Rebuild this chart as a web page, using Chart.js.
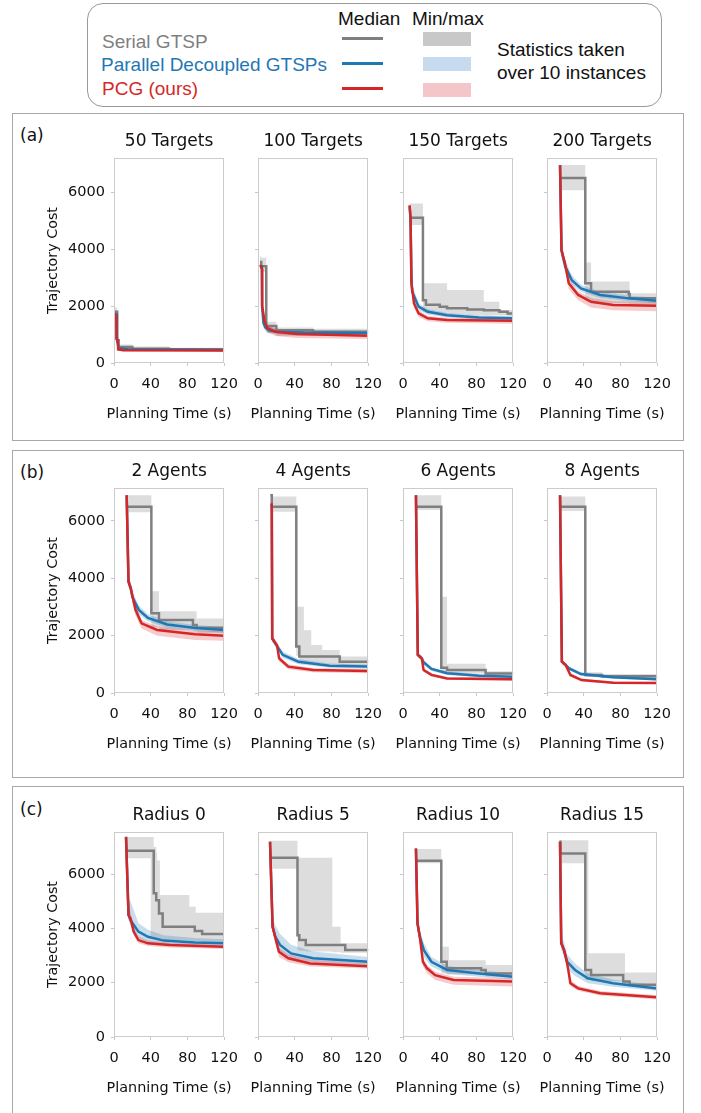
<!DOCTYPE html>
<html>
<head>
<meta charset="utf-8">
<script src="https://cdn.jsdelivr.net/npm/chart.js@4.4.1/dist/chart.umd.min.js"></script>
<style>
  body { margin:0; background:#fff; width:701px; height:1113px; position:relative; overflow:hidden; font-family:"DejaVu Sans", sans-serif; }
  .panel { position:absolute; border:1.5px solid #a8a8a8; box-sizing:border-box; }
  .plabel { position:absolute; font-size:17px; line-height:20px; color:#111; }
  .leg { position:absolute; font-family:"Liberation Sans", Arial, sans-serif; font-size:19px; line-height:22px; white-space:nowrap; color:#111; }
  .legline { position:absolute; height:3px; width:41px; }
  .legsw { position:absolute; height:14px; width:48px; }
  canvas { position:absolute; }
</style>
</head>
<body>

<div class="panel" style="left:87px;top:3px;width:575px;height:104px;border-radius:16px;border-color:#999;"></div>
<div class="leg" style="left:338px;top:8px;">Median</div>
<div class="leg" style="left:412px;top:8px;">Min/max</div>
<div class="leg" style="left:102px;top:31px;color:#7f7f7f;">Serial GTSP</div>
<div class="leg" style="left:101px;top:54px;color:#1f77b4;">Parallel Decoupled GTSPs</div>
<div class="leg" style="left:102px;top:78px;color:#d62728;">PCG (ours)</div>
<div class="legline" style="left:342px;top:37px;background:#7f7f7f;"></div>
<div class="legline" style="left:342px;top:62px;background:#1f77b4;"></div>
<div class="legline" style="left:342px;top:87px;background:#d62728;"></div>
<div class="legsw" style="left:423px;top:32px;background:#c8c8c8;"></div>
<div class="legsw" style="left:423px;top:57px;background:#c6dcee;"></div>
<div class="legsw" style="left:423px;top:83px;background:#f4c6ca;"></div>
<div class="leg" style="left:497px;top:39px;">Statistics taken</div>
<div class="leg" style="left:497px;top:62px;">over 10 instances</div>

<div class="panel" style="left:12px;top:113px;width:672px;height:328px;"></div>
<div class="panel" style="left:12px;top:450px;width:672px;height:328px;"></div>
<div class="panel" style="left:12px;top:786px;width:672px;height:400px;"></div>
<div class="plabel" style="left:20px;top:125px;">(a)</div>
<div class="plabel" style="left:20px;top:462px;">(b)</div>
<div class="plabel" style="left:20px;top:799px;">(c)</div>

<script>
// subplot titles
const titlesA = ['50 Targets', '100 Targets', '150 Targets', '200 Targets'];
const titlesB = ['2 Agents', '4 Agents', '6 Agents', '8 Agents'];
const titlesC = ['Radius 0', 'Radius 5', 'Radius 10', 'Radius 15'];

const xTicks = [0, 40, 80, 120];
const yTicks = [0, 2000, 4000, 6000];
const yMax = [7200, 7150, 7550];

// each row: [time (s), median, min, max]
// (a) number of targets
const a1Serial = [[0.5,1800,1650,1950],[3.5,800,600,1000],[5,560,480,650],[20,500,460,580],[60,480,450,540],[120,480,450,540]];
const a1Parallel = [[0.5,1700,1600,1800],[3,1700,1600,1800],[3.1,850,700,1000],[5,520,470,600],[15,480,440,530],[120,460,430,500]];
const a1Pcg = [[0.5,1750,1700,1800],[2.5,1650,1600,1700],[2.6,850,780,920],[4.3,800,740,860],[4.5,480,440,520],[10,450,410,490],[120,440,400,480]];

const a2Serial = [[2.2,3550,3300,3750],[3.5,3400,3200,3700],[9,1300,1050,1450],[20,1150,950,1250],[60,1100,950,1200],[120,1080,950,1200]];
const a2Parallel = [[2.2,3400,3300,3500],[4.2,3400,3300,3500],[4.4,2000,1800,2300],[6,1400,1250,1600],[8,1250,1120,1400],[12,1150,1050,1280],[20,1100,1000,1200],[50,1070,980,1160],[120,1050,970,1130]];
const a2Pcg = [[2.4,3440,3350,3500],[4.4,3300,3200,3400],[4.6,2000,1800,2200],[7,1480,1300,1650],[10.3,1220,1080,1350],[19,1100,950,1200],[42,1020,880,1120],[120,960,840,1060]];

const a3Serial = [[7,5100,4850,5600],[21.7,2200,1800,2800],[25,2050,1750,2800],[40,1980,1720,2800],[48,1920,1700,2560],[70,1880,1690,2560],[88,1850,1680,2150],[105,1800,1670,1860],[114,1740,1650,1860],[120,1740,1650,1860]];
const a3Parallel = [[7.2,5500,5400,5600],[8.2,5100,5000,5200],[9.2,2900,2600,3200],[10,2500,2300,2750],[17,1980,1850,2100],[27,1800,1700,1900],[48,1680,1600,1760],[83,1600,1530,1680],[120,1570,1500,1640]];
const a3Pcg = [[7.2,5540,5450,5600],[8.2,5100,5000,5200],[9.2,2800,2600,3000],[12,2090,1950,2250],[17,1740,1620,1850],[27,1570,1470,1650],[48,1510,1410,1590],[120,1485,1380,1560]];

const a4Serial = [[14,6500,6070,6950],[41.7,2800,2200,3530],[48,2500,2100,2860],[89,2420,2080,2860],[90,2270,2050,2450],[120,2270,2050,2450]];
const a4Parallel = [[14.2,6950,6900,7000],[15.8,3950,3700,4200],[20,3380,3150,3600],[27,2910,2750,3080],[37,2620,2500,2750],[58,2390,2280,2500],[89,2270,2170,2370],[120,2190,2100,2290]];
const a4Pcg = [[14.2,6950,6900,7000],[15.8,3965,3800,4100],[19.6,3500,3300,3650],[23.7,2800,2600,2950],[34,2390,2200,2520],[48,2150,1950,2280],[72,2035,1850,2170],[120,2010,1820,2150]];

// (b) number of agents
const b1Serial = [[13.5,6500,6300,6900],[40.7,2780,2300,3550],[49,2550,2200,2850],[86,2370,2150,2850],[90,2280,2100,2600],[120,2280,2100,2600]];
const b1Parallel = [[13.8,6900,6850,6950],[15.8,3880,3700,4100],[18.3,3650,3450,3850],[20,3350,3150,3550],[27,2900,2750,3050],[37,2620,2500,2750],[58,2390,2280,2500],[89,2270,2170,2370],[120,2200,2100,2300]];
const b1Pcg = [[13.8,6900,6850,6950],[15.8,3880,3750,4150],[18.3,3650,3450,3800],[23.4,2900,2700,3050],[30,2430,2250,2550],[47,2200,2000,2320],[88.5,2050,1850,2180],[120,2000,1820,2150]];

const b2Serial = [[13.4,6900,6850,6950],[15,6500,6320,6850],[41.7,1620,1300,3010],[45,1270,1050,3010],[50,1270,1050,2190],[58,1270,1050,1670],[70,1270,1000,1500],[89,1090,970,1270],[120,1060,960,1270]];
const b2Parallel = [[15,6600,6550,6650],[15.5,1900,1800,2000],[20,1670,1550,1800],[27,1330,1220,1450],[44,1090,1000,1190],[78,950,880,1030],[120,920,850,990]];
const b2Pcg = [[15,6620,6550,6700],[15.5,1900,1800,2000],[20.7,1670,1550,1750],[23,1210,1100,1300],[33,920,830,1000],[60,800,720,870],[120,770,690,840]];

const b3Serial = [[14,6500,6380,6900],[41.7,880,700,3360],[48,800,680,1020],[90,680,620,760],[120,670,610,760]];
const b3Parallel = [[14.1,6900,6850,6950],[16.1,1330,1250,1420],[20.5,1210,1120,1300],[22.4,1070,980,1160],[31,840,770,910],[48,690,630,750],[83,605,550,660],[120,570,520,620]];
const b3Pcg = [[14.1,6900,6850,6950],[16.1,1330,1250,1400],[20.5,1210,1130,1290],[22.4,800,740,870],[31,630,570,690],[48,510,460,560],[120,480,430,530]];

const b4Serial = [[14,6500,6350,6850],[41.7,630,560,720],[60,580,520,660],[120,520,480,600]];
const b4Parallel = [[14.2,6900,6850,6950],[16.2,1090,1000,1170],[20.3,980,900,1050],[24,860,790,930],[37,660,600,720],[72,550,500,600],[120,480,440,520]];
const b4Pcg = [[14.2,6900,6850,6950],[16.2,1090,1000,1170],[20.3,980,910,1050],[25.5,630,570,690],[37.6,450,400,500],[72,360,320,400],[120,350,310,390]];

// (c) target radius
const c1Serial = [[13,6860,6580,7370],[40,6860,3700,7370],[43.3,5290,3650,7000],[46,5040,3620,6800],[47,5040,3600,6500],[49,4550,3580,6500],[50,4550,3560,5230],[53,4060,3550,5230],[82,4060,3530,4800],[88,3900,3520,4800],[89,3900,3520,4580],[96,3790,3500,4580],[120,3790,3500,4580]];
const c1Parallel = [[13.1,7370,7300,7400],[15.8,4500,4300,5100],[18,4300,4100,5000],[26.6,3880,3650,4200],[37,3690,3500,3950],[54,3550,3400,3750],[88,3480,3380,3650],[120,3450,3350,3600]];
const c1Pcg = [[13.1,7370,7300,7400],[15.8,4490,4350,5100],[18,4370,4200,4600],[21.4,3880,3750,4050],[26.6,3570,3450,3700],[37,3450,3350,3550],[61,3390,3300,3480],[120,3320,3240,3400]];

const c2Serial = [[13.1,6600,6200,7230],[43,3750,3200,6600],[45,3570,3180,6600],[52,3390,3150,6600],[81,3390,3120,4060],[90,3390,3100,3450],[95,3200,3100,3450],[120,3170,3080,3450]];
const c2Parallel = [[13.1,7190,7100,7250],[15.9,4060,3900,4400],[19,3690,3450,4100],[24,3390,3150,3800],[36,3080,2900,3400],[60,2900,2750,3150],[120,2770,2650,2950]];
const c2Pcg = [[13.1,7190,7100,7250],[15.9,4060,3900,4300],[18.6,3690,3500,3900],[22.8,3140,2950,3300],[33,2900,2750,3050],[57,2710,2600,2850],[120,2610,2520,2720]];

const c3Serial = [[14,6490,6400,6920],[41.7,2770,2350,3320],[47.6,2530,2300,3320],[50,2530,2300,2830],[85,2470,2280,2830],[90,2340,2230,2650],[120,2340,2230,2650]];
const c3Parallel = [[14.1,6940,6900,6980],[15.8,4180,3900,4500],[18.3,3700,3450,3950],[22.7,3200,2950,3450],[31,2770,2600,2950],[48,2470,2330,2620],[83,2340,2220,2470],[120,2220,2120,2340]];
const c3Pcg = [[14.1,6940,6900,6980],[15.8,4180,4000,4400],[18.3,3690,3500,3850],[21.7,2770,2600,2900],[26.2,2530,2350,2650],[35,2280,2100,2400],[55,2100,1920,2220],[120,2040,1860,2160]];

const c4Serial = [[13.5,7190,7100,7250],[14.5,6760,6400,7250],[41.7,2470,2100,7250],[45,2470,2100,3080],[48,2280,2050,3080],[83,2040,1900,3080],[85,2040,1900,2380],[90,1920,1850,2380],[120,1920,1850,2380]];
const c4Parallel = [[14.2,7190,7100,7250],[15.5,3450,3200,3750],[18.6,3200,2950,3500],[22,2770,2500,3050],[30.6,2470,2250,2700],[44.4,2160,1980,2350],[72,1980,1850,2120],[120,1790,1700,1900]];
const c4Pcg = [[14.2,7190,7100,7250],[15.5,3450,3300,3600],[18.6,3200,3050,3350],[22,2710,2550,2850],[25.5,1980,1880,2100],[34,1790,1700,1880],[58,1610,1530,1690],[120,1460,1380,1540]];

const rows = [
  { titles: titlesA, series: [[a1Serial,a1Parallel,a1Pcg],[a2Serial,a2Parallel,a2Pcg],[a3Serial,a3Parallel,a3Pcg],[a4Serial,a4Parallel,a4Pcg]] },
  { titles: titlesB, series: [[b1Serial,b1Parallel,b1Pcg],[b2Serial,b2Parallel,b2Pcg],[b3Serial,b3Parallel,b3Pcg],[b4Serial,b4Parallel,b4Pcg]] },
  { titles: titlesC, series: [[c1Serial,c1Parallel,c1Pcg],[c2Serial,c2Parallel,c2Pcg],[c3Serial,c3Parallel,c3Pcg],[c4Serial,c4Parallel,c4Pcg]] }
];

// layout of the plot areas (px)
const colLeft = [114, 258, 403, 547];
const rowTop = [158, 488, 832];
const PW = 116, PH = 205;
const AXW = 70, PADR = 18, TITLEH = 27, XAXH = 64;

const lineColors = ['#7f7f7f', '#1f77b4', '#d62728'];
const bandColors = ['rgba(128,128,128,0.27)', 'rgba(31,119,180,0.24)', 'rgba(214,39,40,0.24)'];
const fam = '"DejaVu Sans"';
Chart.defaults.font.family = fam;

const framePlugin = {
  id: 'frame',
  afterDatasetsDraw(chart) {
    const a = chart.chartArea, ctx = chart.ctx;
    ctx.save();
    ctx.strokeStyle = '#cccccc';
    ctx.lineWidth = 1;
    ctx.strokeRect(Math.round(a.left) + 0.5, Math.round(a.top) + 0.5, Math.round(a.right - a.left) - 1, Math.round(a.bottom - a.top) - 1);
    ctx.restore();
  }
};

// the scale title of chart.js gets squeezed to the axis width, so draw it here
const xTitlePlugin = {
  id: 'xTitle',
  afterDraw(chart) {
    const a = chart.chartArea, ctx = chart.ctx;
    ctx.save();
    ctx.font = '14.4px ' + fam;
    ctx.fillStyle = '#111';
    ctx.textAlign = 'center';
    ctx.textBaseline = 'middle';
    ctx.fillText('Planning Time (s)', (a.left + a.right) / 2, a.bottom + 51);
    ctx.restore();
  }
};

// band = two datasets, fill between them; higher order is drawn first (underneath)
function bandSets(data, color, stepped, order) {
  return [
    { data: data.map(r => ({x: r[0], y: r[2]})), borderColor: 'transparent', borderWidth: 0, pointRadius: 0, fill: false, stepped: stepped, backgroundColor: color, order: order },
    { data: data.map(r => ({x: r[0], y: r[3]})), borderColor: 'transparent', borderWidth: 0, pointRadius: 0, fill: '-1', stepped: stepped, backgroundColor: color, order: order }
  ];
}

function lineSet(data, color, stepped, order) {
  return { data: data.map(r => ({x: r[0], y: r[1]})), borderColor: color, borderWidth: 2.5, pointRadius: 0, fill: false, stepped: stepped, tension: 0, order: order };
}

function makeChart(r, c) {
  const L = colLeft[c], T = rowTop[r];
  const cv = document.createElement('canvas');
  cv.width = AXW + PW + PADR;
  cv.height = TITLEH + PH + XAXH;
  cv.style.left = (L - AXW) + 'px';
  cv.style.top = (T - TITLEH) + 'px';
  document.body.appendChild(cv);

  const s = rows[r].series[c];
  let datasets = [];
  for (let i = 0; i < 3; i++) {
    datasets = datasets.concat(bandSets(s[i], bandColors[i], i === 0 ? 'before' : false, 12 - i));
  }
  for (let i = 0; i < 3; i++) {
    datasets.push(lineSet(s[i], lineColors[i], i === 0 ? 'before' : false, 2 - i));
  }

  const gridOpts = { display: true, drawOnChartArea: false, drawTicks: true, tickLength: 3, color: '#c8c8c8' };

  new Chart(cv.getContext('2d'), {
    type: 'line',
    data: { datasets: datasets },
    options: {
      responsive: false,
      animation: false,
      devicePixelRatio: 1,
      layout: { padding: { left: 0, right: PADR, top: 0, bottom: 0 } },
      plugins: {
        legend: { display: false },
        tooltip: { enabled: false },
        title: {
          display: true,
          fullSize: false,
          text: rows[r].titles[c],
          color: '#111',
          font: { family: fam, size: 17, weight: 'normal' },
          padding: { top: 0, bottom: 6.6 }
        }
      },
      scales: {
        x: {
          type: 'linear', min: 0, max: 120,
          afterBuildTicks: sc => { sc.ticks = xTicks.map(v => ({value: v})); },
          afterFit: sc => { sc.height = XAXH; },
          ticks: { autoSkip: false, maxRotation: 0, padding: 10, color: '#111', font: { family: fam, size: 14.5 }, callback: v => String(v) },
          grid: gridOpts,
          border: { display: false },
          title: { display: false }
        },
        y: {
          type: 'linear', min: 0, max: yMax[r],
          afterBuildTicks: sc => { sc.ticks = yTicks.map(v => ({value: v})); },
          afterFit: sc => { sc.width = AXW; },
          ticks: { display: c === 0, padding: 6, color: '#111', font: { family: fam, size: 14.5 }, callback: v => String(v) },
          grid: gridOpts,
          border: { display: false },
          title: { display: c === 0, text: 'Trajectory Cost', color: '#111', font: { family: fam, size: 14.3 }, padding: { top: 1, bottom: 0 } }
        }
      }
    },
    plugins: [framePlugin, xTitlePlugin]
  });
}

for (let r = 0; r < 3; r++) {
  for (let c = 0; c < 4; c++) makeChart(r, c);
}
</script>
</body>
</html>
